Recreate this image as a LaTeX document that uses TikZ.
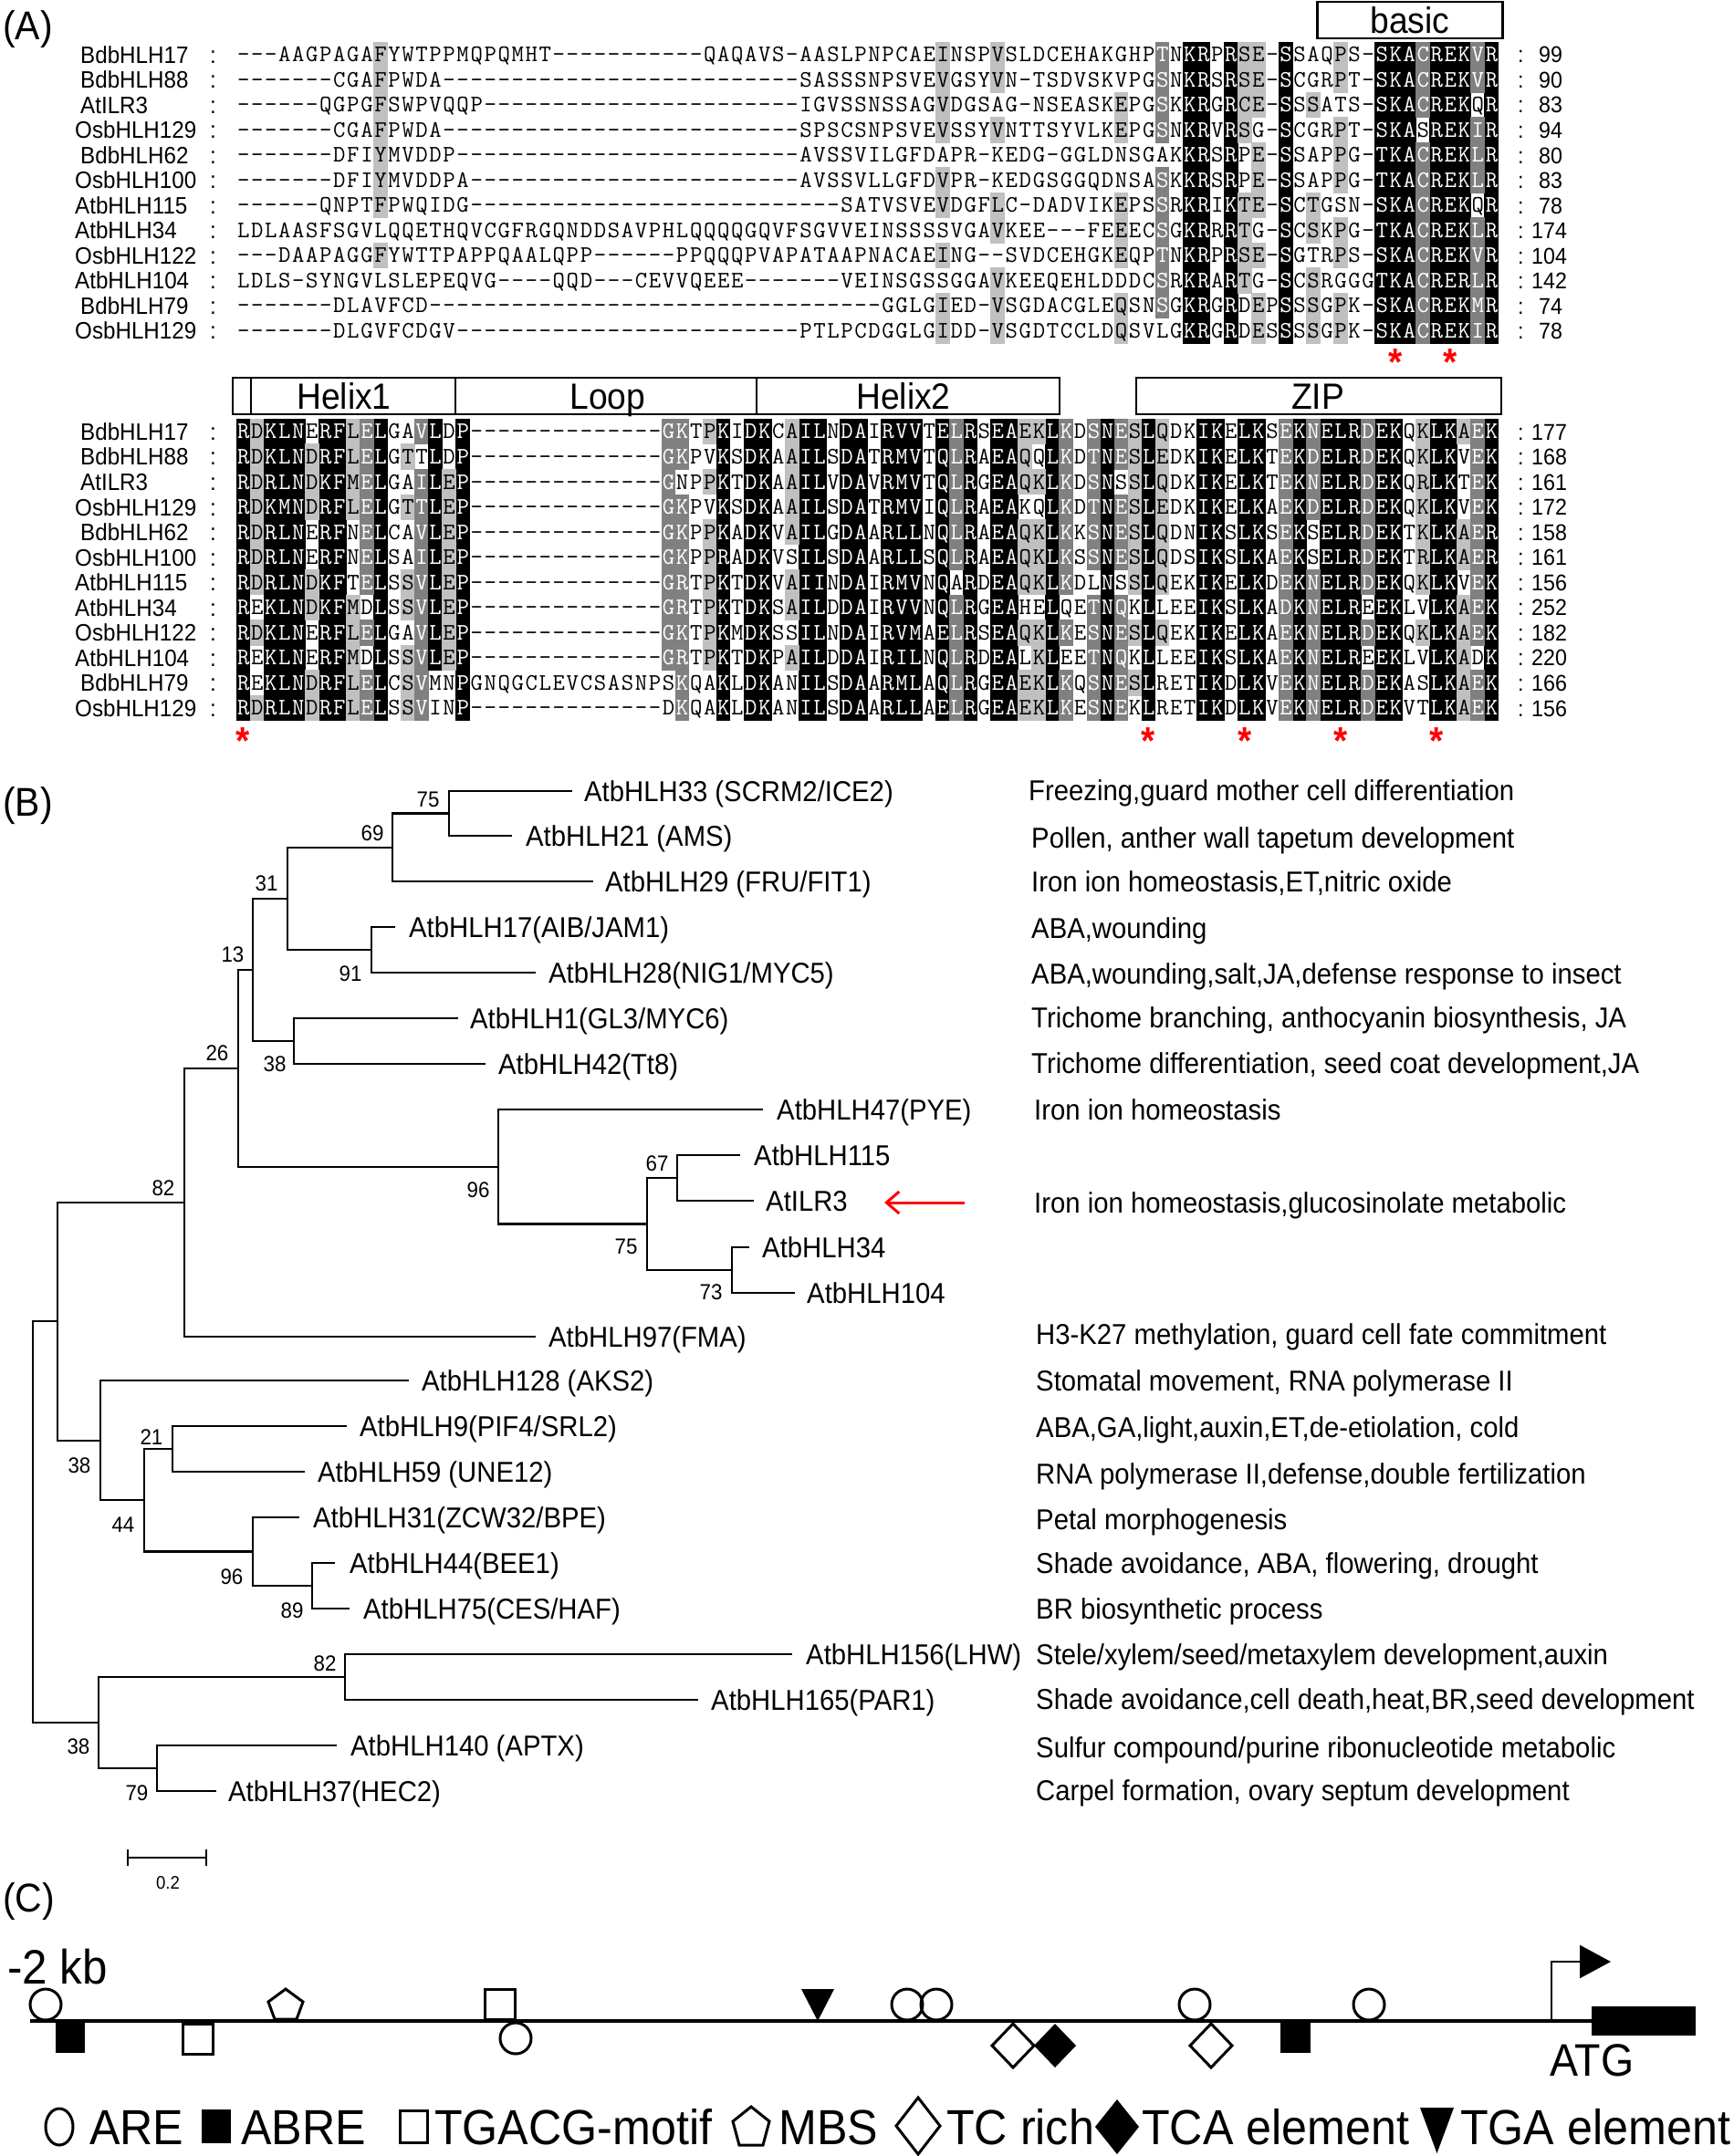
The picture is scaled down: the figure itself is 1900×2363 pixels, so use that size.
\documentclass[tikz,border=0pt]{standalone}
\usepackage{fontspec}
\setmainfont[FakeStretch=0.93]{Liberation Sans}
\usetikzlibrary{arrows.meta}
\definecolor{lgray}{RGB}{192,192,192}
\definecolor{dgray}{RGB}{128,128,128}
\newcount\rowc
\newcount\colc
\def\D#1{\ifnum#1>0 -\expandafter\D\expandafter{\the\numexpr#1-1\relax}\fi}
% shading columns
\def\setcol#1#2#3{\global\rowc=0 \def\scblk{#1}\def\sccol{#2}\scwalk#3\relax}
\def\scwalk#1{\ifx#1\relax\else\global\advance\rowc by 1\relax\expandafter\xdef\csname sh-\scblk-\the\rowc-\sccol\endcsname{#1}\scfill{#1}\expandafter\scwalk\fi}
\def\scfill#1{\def\scc{}\if k#1\def\scc{black}\fi\if d#1\def\scc{dgray}\fi\if l#1\def\scc{lgray}\fi\ifx\scc\empty\else\fill[\scc] ({259+(\sccol-1)*15.03-0.35},{\ybase+(\the\rowc-1)*\ypitch-14.1}) rectangle ++(15.73,28.2);\fi}
\def\colA#1#2{\def\ybase{60}\def\ypitch{27.5}\setcol{1}{#1}{#2}}
\def\colB#1#2{\def\ybase{473}\def\ypitch{27.55}\setcol{2}{#1}{#2}}
% sequence text
\def\seqline#1#2#3{\def\slblk{#1}\def\slrow{#2}\colc=0 \edef\sltmp{#3}\expandafter\slwalk\sltmp\relax}
\def\slwalk#1{\ifx#1\relax\else\advance\colc by 1\relax\slchar{#1}\expandafter\slwalk\fi}
\def\slchar#1{\expandafter\ifx\csname sh-\slblk-\slrow-\the\colc\endcsname\relax\hbox to 15.03pt{\hss#1\hss}\else\edef\slcode{\csname sh-\slblk-\slrow-\the\colc\endcsname}\if k\slcode\hbox to 15.03pt{\hss\textcolor{white}{#1}\hss}\else\if d\slcode\hbox to 15.03pt{\hss\textcolor{white}{#1}\hss}\else\hbox to 15.03pt{\hss#1\hss}\fi\fi\fi}
\newcommand\rowA[6]{\pgfmathsetmacro\yc{60+(#1-1)*27.5}%
  \node[lab] (la#1) at (#3,\yc+9.4) {#2};
  \node[lab] (ca#1) at (230,\yc+9.4) {:};
  \node[seqt] (sa#1) at (259,\yc+7.9) {\seqline{1}{#1}{#6}};
  \node[numt] (qa#1) at (1663,\yc+9) {:};
  \node[numt] (na#1) at (#4,\yc+9) {#5};}
\newcommand\rowB[6]{\pgfmathsetmacro\yc{473+(#1-1)*27.55}%
  \node[lab] (lb#1) at (#3,\yc+9.4) {#2};
  \node[lab] (cb#1) at (230,\yc+9.4) {:};
  \node[seqt] (sb#1) at (259,\yc+7.9) {\seqline{2}{#1}{#6}};
  \node[numt] (qb#1) at (1663,\yc+9) {:};
  \node[numt] (nb#1) at (#4,\yc+9) {#5};}
\newcommand\leafnode[5]{\coordinate (e#1) at (#2,#3); \node[leaft] (t#1) at (#4,#3+11.3) {#5};}
\begin{document}
\begin{tikzpicture}[x=1pt,y=-1pt,
  lab/.style={font=\fontsize{26}{26}\selectfont,anchor=base west,inner sep=0pt},
  numt/.style={font=\fontsize{25}{25}\selectfont,anchor=base west,inner sep=0pt},
  seqt/.style={font=\ttfamily\fontsize{26}{26}\selectfont,anchor=base west,inner sep=0pt},
  hdr/.style={draw,line width=2.5pt,inner sep=0pt,minimum height=40pt},
  hdrtxt/.style={font=\fontsize{40}{40}\selectfont,text height=28.8pt,text depth=0pt,inner sep=0pt},
  paneltxt/.style={font=\fontsize{44}{44}\selectfont,anchor=west,inner sep=0pt},
  redstar/.style={font=\bfseries\fontsize{42}{42}\selectfont,text=red,anchor=base,inner sep=0pt},
  leaft/.style={font=\fontsize{31.5}{31.5}\selectfont,anchor=base west,inner sep=0pt},
  boot/.style={font=\fontsize{24}{24}\selectfont,anchor=base,inner sep=0pt},
  brline/.style={line width=2.2pt},
  bigt/.style={font=\fontsize{54}{54}\selectfont,anchor=base west,inner sep=0pt},
  sym/.style={line width=3pt}]
\useasboundingbox (0,0) rectangle (1900,2363);
\fill[white] (0,0) rectangle (1900,2363);
% ---------------- Panel A shading ----------------
\colA{11}{lllllll.l...}
\colA{52}{llll.ll.l.ll}
\colA{56}{ll.l..ll.lll}
\colA{65}{..ll..lll.ll}
\colA{68}{dddd.dddddd.}
\foreach \c in {70,71,73,77,84,85,86,88,89,90,92}{\colA{\c}{kkkkkkkkkkkk}}
\colA{74}{llll..llll..}
\colA{75}{lll.lll.l.ll}
\colA{79}{..l...ll.lll}
\colA{81}{ll.lll.ll.ll}
\colA{87}{ddd.dddddddd}
\colA{91}{dd.ddd.ddddd}
\foreach \c in {1,3,4,5,7,8,11,17,36,38,39,42,43,45,46,48,49,50,52,54,56,57,60,64,67,71,72,74,75,78,80,81,82,84,85,88,89,92}{\colB{\c}{kkkkkkkkkkkk}}
\colB{2}{lllllll.l..l}
\colB{6}{.lll..ll..ll}
\colB{9}{llll...lllll}
\colB{10}{ddddddd.d.dd}
\colB{13}{.l.l..ll.lll}
\colB{14}{d.dddddddddd}
\colB{15}{kkkkkkkkkk..}
\colB{16}{..llllllll..}
\colB{32}{dddddddddd..}
\colB{33}{dd.ddddddddd}
\colB{35}{l.l.llllll..}
\colB{41}{lllll.ll.l..}
\colB{53}{dddddd.ddddd}
\colB{58}{lll.lll.l.ll}
\colB{59}{l.l.lll.llll}
\colB{61}{ddddddd.d.dd}
\colB{63}{dddddd.ddddd}
\colB{65}{dd.ddd.ddddd}
\colB{66}{lllllll.l.l.}
\colB{68}{lllllll.l...}
\colB{77}{dddddddddddd}
\colB{79}{dddd..dddddd}
\colB{83}{ddddddd.d.dd}
\colB{87}{lllllll.l...}
\colB{90}{l...ll.lllll}
\colB{91}{ddddddddd.dd}
% ---------------- Panel A text ----------------
\node[paneltxt] (pA) at (3,32) {(A)};
\node[hdr,minimum width=203pt] (bxbasic) at (1545,22) {};
\node[hdrtxt] (tbasic) at (1545,22) {basic};
\rowA{1}{BdbHLH17}{88}{1686}{99}{---AAGPAGAFYWTPPMQPQMHT\D{11}QAQAVS-AASLPNPCAEINSPVSLDCEHAKGHPTNKRPRSE-SSAQPS-SKACREKVR}
\rowA{2}{BdbHLH88}{88}{1686}{90}{-------CGAFPWDA\D{26}SASSSNPSVEVGSYVN-TSDVSKVPGSNKRSRSE-SCGRPT-SKACREKVR}
\rowA{3}{AtILR3}{88}{1686}{83}{------QGPGFSWPVQQP\D{23}IGVSSNSSAGVDGSAG-NSEASKEPGSKKRGRCE-SSSATS-SKACREKQR}
\rowA{4}{OsbHLH129}{82}{1686}{94}{-------CGAFPWDA\D{26}SPSCSNPSVEVSSYVNTTSYVLKEPGSNKRVRSG-SCGRPT-SKASREKIR}
\rowA{5}{BdbHLH62}{88}{1686}{80}{-------DFIYMVDDP\D{25}AVSSVILGFDAPR-KEDG-GGLDNSGAKKRSRPE-SSAPPG-TKACREKLR}
\rowA{6}{OsbHLH100}{82}{1686}{83}{-------DFIYMVDDPA\D{24}AVSSVLLGFDVPR-KEDGSGGQDNSASKKRSRPE-SSAPPG-TKACREKLR}
\rowA{7}{AtbHLH115}{82}{1686}{78}{------QNPTFPWQIDG\D{27}SATVSVEVDGFLC-DADVIKEPSSRKRIKTE-SCTGSN-SKACREKQR}
\rowA{8}{AtbHLH34}{82}{1678}{174}{LDLAASFSGVLQQETHQVCGFRGQNDDSAVPHLQQQQGQVFSGVVEINSSSSVGAVKEE---FEEECSGKRRRTG-SCSKPG-TKACREKLR}
\rowA{9}{OsbHLH122}{82}{1678}{104}{---DAAPAGGFYWTTPAPPQAALQPP------PPQQQPVAPATAAPNACAEING--SVDCEHGKEQPTNKRPRSE-SGTRPS-SKACREKVR}
\rowA{10}{AtbHLH104}{82}{1678}{142}{LDLS-SYNGVLSLEPEQVG----QQD---CEVVQEEE-------VEINSGSSGGAVKEEQEHLDDDCSRKRARTG-SCSRGGGTKACRERLR}
\rowA{11}{BdbHLH79}{88}{1686}{74}{-------DLAVFCD\D{33}GGLGIED-VSGDACGLEQSNSGKRGRDEPSSSGPK-SKACREKMR}
\rowA{12}{OsbHLH129}{82}{1686}{78}{-------DLGVFCDGV\D{25}PTLPCDGGLGIDD-VSGDTCCLDQSVLGKRGRDESSSSGPK-SKACREKIR}
\node[redstar] (sA1) at (1529,411) {*};
\node[redstar] (sA2) at (1589,411) {*};
% block 2 headers
\node[hdr,minimum width=20pt] (bx0) at (265,434) {};
\node[hdr,minimum width=224pt] (bxh1) at (387,434) {};
\node[hdr,minimum width=330pt] (bxloop) at (664,434) {};
\node[hdr,minimum width=332pt] (bxh2) at (995,434) {};
\node[hdr,minimum width=400pt] (bxzip) at (1445,434) {};
\node[hdrtxt] (th1) at (377,434) {Helix1};
\node[hdrtxt] (tloop) at (666,434) {Loop};
\node[hdrtxt] (th2) at (990,434) {Helix2};
\node[hdrtxt] (tzip) at (1444,434) {ZIP};
\rowB{1}{BdbHLH17}{88}{1678}{177}{RDKLNERFLELGAVLDP\D{14}GKTPKIDKCAILNDAIRVVTELRSEAEKLKDSNESLQDKIKELKSEKNELRDEKQKLKAEK}
\rowB{2}{BdbHLH88}{88}{1678}{168}{RDKLNDRFLELGTTLDP\D{14}GKPVKSDKAAILSDATRMVTQLRAEAQQLKDTNESLEDKIKELKTEKDELRDEKQKLKVEK}
\rowB{3}{AtILR3}{88}{1678}{161}{RDRLNDKFMELGAILEP\D{14}GNPPKTDKAAILVDAVRMVTQLRGEAQKLKDSNSSLQDKIKELKTEKNELRDEKQRLKTEK}
\rowB{4}{OsbHLH129}{82}{1678}{172}{RDKMNDRFLELGTTLEP\D{14}GKPVKSDKAAILSDATRMVIQLRAEAKQLKDTNESLEDKIKELKAEKDELRDEKQKLKVEK}
\rowB{5}{BdbHLH62}{88}{1678}{158}{RDRLNERFNELCAVLEP\D{14}GKPPKADKVAILGDAARLLNQLRAEAQKLKKSNESLQDNIKSLKSEKSELRDEKTKLKAER}
\rowB{6}{OsbHLH100}{82}{1678}{161}{RDRLNERFNELSAILEP\D{14}GKPPRADKVSILSDAARLLSQLRAEAQKLKSSNESLQDSIKSLKAEKSELRDEKTRLKAER}
\rowB{7}{AtbHLH115}{82}{1678}{156}{RDRLNDKFTELSSVLEP\D{14}GRTPKTDKVAIINDAIRMVNQARDEAQKLKDLNSSLQEKIKELKDEKNELRDEKQKLKVEK}
\rowB{8}{AtbHLH34}{82}{1678}{252}{REKLNDKFMDLSSVLEP\D{14}GRTPKTDKSAILDDAIRVVNQLRGEAHELQETNQKLLEEIKSLKADKNELREEKLVLKAEK}
\rowB{9}{OsbHLH122}{82}{1678}{182}{RDKLNERFLELGAVLEP\D{14}GKTPKMDKSSILNDAIRVMAELRSEAQKLKESNESLQEKIKELKAEKNELRDEKQKLKAEK}
\rowB{10}{AtbHLH104}{82}{1678}{220}{REKLNERFMDLSSVLEP\D{14}GRTPKTDKPAILDDAIRILNQLRDEALKLEETNQKLLEEIKSLKAEKNELREEKLVLKADK}
\rowB{11}{BdbHLH79}{88}{1678}{166}{REKLNDRFLELCSVMNPGNQGCLEVCSASNPSKQAKLDKANILSDAARMLAQLRGEAEKLKQSNESLRETIKDLKVEKNELRDEKASLKAEK}
\rowB{12}{OsbHLH129}{82}{1678}{156}{RDRLNDRFLELSSVINP\D{14}DKQAKLDKANILSDAARLLAELRGEAEKLKESNEKLRETIKDLKVEKNELRDEKVTLKAEK}
\node[redstar] (sB1) at (266.5,826) {*};
\node[redstar] (sB2) at (1258.5,826) {*};
\node[redstar] (sB3) at (1364,826) {*};
\node[redstar] (sB4) at (1469,826) {*};
\node[redstar] (sB5) at (1574,826) {*};
% ---------------- Panel B ----------------
\node[paneltxt] (pB) at (3,883) {(B)};
\leafnode{33}{627}{867}{640}{AtbHLH33 (SCRM2/ICE2)}
\leafnode{21}{561}{916}{576}{AtbHLH21 (AMS)}
\leafnode{29}{650}{966}{663}{AtbHLH29 (FRU/FIT1)}
\leafnode{17}{433}{1016}{448}{AtbHLH17(AIB/JAM1)}
\leafnode{28}{587}{1066}{601}{AtbHLH28(NIG1/MYC5)}
\leafnode{1}{502}{1116}{515}{AtbHLH1(GL3/MYC6)}
\leafnode{42}{532}{1166}{546}{AtbHLH42(Tt8)}
\leafnode{47}{836}{1216}{851}{AtbHLH47(PYE)}
\leafnode{115}{811}{1266}{826}{AtbHLH115}
\leafnode{ILR3}{826}{1316}{839}{AtILR3}
\leafnode{34}{821}{1367}{835}{AtbHLH34}
\leafnode{104}{871}{1417}{884}{AtbHLH104}
\leafnode{97}{587}{1465}{601}{AtbHLH97(FMA)}
\leafnode{128}{448}{1513}{462}{AtbHLH128 (AKS2)}
\leafnode{9}{380}{1563}{394}{AtbHLH9(PIF4/SRL2)}
\leafnode{59}{334}{1613}{348}{AtbHLH59 (UNE12)}
\leafnode{31}{328}{1663}{343}{AtbHLH31(ZCW32/BPE)}
\leafnode{44}{367}{1713}{383}{AtbHLH44(BEE1)}
\leafnode{75}{383}{1763}{398}{AtbHLH75(CES/HAF)}
\leafnode{156}{868}{1813}{883}{AtbHLH156(LHW)}
\leafnode{165}{765}{1863}{779}{AtbHLH165(PAR1)}
\leafnode{140}{369}{1913}{384}{AtbHLH140 (APTX)}
\leafnode{37}{237}{1963}{250}{AtbHLH37(HEC2)}
\coordinate (N75a) at (492,891.5);
\coordinate (N69) at (430,928.75);
\coordinate (N91) at (407,1041);
\coordinate (N31) at (315,984.9);
\coordinate (N38a) at (322,1141);
\coordinate (N13) at (277,1062.9);
\coordinate (N67) at (742,1291);
\coordinate (N73) at (802,1392);
\coordinate (N75b) at (709,1341.5);
\coordinate (N96a) at (546,1278.75);
\coordinate (N26) at (261,1170.8);
\coordinate (N82a) at (202,1317.9);
\coordinate (N21) at (189,1588);
\coordinate (N89) at (342,1738);
\coordinate (N96b) at (277,1700.5);
\coordinate (N44) at (158,1644.25);
\coordinate (N38b) at (110,1578.6);
\coordinate (Nr2) at (63,1448.3);
\coordinate (N82b) at (378,1838);
\coordinate (N79) at (172,1938);
\coordinate (N38c) at (108,1888);
\coordinate (Root) at (36,1668);
\foreach \p/\q in {N75a/e33,N75a/e21,N69/N75a,N69/e29,N91/e17,N91/e28,N31/N69,N31/N91,N38a/e1,N38a/e42,N13/N31,N13/N38a,N67/e115,N67/eILR3,N73/e34,N73/e104,N75b/N67,N75b/N73,N96a/e47,N96a/N75b,N26/N13,N26/N96a,N82a/N26,N82a/e97,N21/e9,N21/e59,N89/e44,N89/e75,N96b/e31,N96b/N89,N44/N21,N44/N96b,N38b/e128,N38b/N44,Nr2/N82a,Nr2/N38b,N82b/e156,N82b/e165,N79/e140,N79/e37,N38c/N82b,N38c/N79,Root/Nr2,Root/N38c}{\draw[brline] (\p) |- (\q);}
\foreach \n/\x/\y/\v in {b1/469/876/75,b2/408/913/69,b3/292/968/31,b4/384/1067/91,b5/255/1046/13,b6/301/1166/38,b7/238/1154/26,b8/524/1304/96,b9/720/1275/67,b10/686/1366/75,b11/779/1416/73,b12/179/1302/82,b13/166/1575/21,b14/87/1606/38,b15/135/1671/44,b16/254/1728/96,b17/320/1765/89,b18/356/1823/82,b19/86/1914/38,b20/150/1965/79}{\node[boot] (\n) at (\x,\y+8.6) {\v};}
\foreach \n/\x/\y/\t in {f1/1127/866/{Freezing,guard mother cell differentiation},f2/1130/918/{Pollen, anther wall tapetum development},f3/1130/966/{Iron ion homeostasis,ET,nitric oxide},f4/1130/1017/{ABA,wounding},f5/1130/1067/{ABA,wounding,salt,JA,defense response to insect},f6/1130/1115/{Trichome branching, anthocyanin biosynthesis, JA},f7/1130/1165/{Trichome differentiation, seed coat development,JA},f8/1133/1216/{Iron ion homeostasis},f9/1133/1318/{Iron ion homeostasis,glucosinolate metabolic},f10/1135/1462/{H3-K27 methylation, guard cell fate commitment},f11/1135/1513/{Stomatal movement, RNA polymerase II},f12/1135/1564/{ABA,GA,light,auxin,ET,de-etiolation, cold},f13/1135/1615/{RNA polymerase II,defense,double fertilization},f14/1135/1665/{Petal morphogenesis},f15/1135/1713/{Shade avoidance, ABA, flowering, drought},f16/1135/1763/{BR biosynthetic process},f17/1135/1813/{Stele/xylem/seed/metaxylem development,auxin},f18/1135/1862/{Shade avoidance,cell death,heat,BR,seed development},f19/1135/1915/{Sulfur compound/purine ribonucleotide metabolic},f20/1135/1962/{Carpel formation, ovary septum development}}{\node[leaft] (\n) at (\x,\y+11.3) {\t};}
\coordinate (arS) at (1057,1318);
\coordinate (arE) at (969,1318);
\draw[red,line width=3pt,-{Straight Barb[length=14pt,width=24pt,line width=3pt]}] (arS) -- (arE);
\coordinate (sc1) at (140,2036);
\coordinate (sc2) at (226,2036);
\draw[brline] (sc1) -- (sc2);
\draw[brline] ([yshift=-9pt]sc1) -- ([yshift=9pt]sc1);
\draw[brline] ([yshift=-9pt]sc2) -- ([yshift=9pt]sc2);
\node[boot,font=\fontsize{20}{20}\selectfont] (sclab) at (184,2070) {0.2};
% ---------------- Panel C ----------------
\node[paneltxt] (pC) at (3,2084) {(C)};
\node[bigt,font=\fontsize{53}{53}\selectfont] (kb) at (8,2174) {-2 kb};
\coordinate (pl) at (33,2215);
\coordinate (pr) at (1748,2215);
\draw[line width=4pt] (pl) -- (pr);
\fill (1744,2199) rectangle (1858,2231);
\coordinate (t0) at (1700,2215);
\coordinate (t1) at (1765,2150);
\draw[line width=2.5pt,-{Triangle[length=34pt,width=36pt]}] (t0) |- (t1);
\node[bigt,font=\fontsize{50}{50}\selectfont] (atg) at (1698,2275) {ATG};
\draw[sym,fill=white] (50,2197) circle[radius=17pt];
\fill (61,2216) rectangle (93,2250);
\draw[sym,fill=white] (200,2218) rectangle (233,2251);
\draw[sym,fill=white] (313,2180) -- (332,2194) -- (325,2213) -- (301,2213) -- (294,2194) -- cycle;
\draw[sym,fill=white] (531,2180) rectangle (564,2213);
\draw[sym,fill=white] (565,2234) circle[radius=17pt];
\fill (878,2180) -- (914,2180) -- (896,2215) -- cycle;
\draw[sym] (994,2197) circle[radius=17pt];
\draw[sym] (1026,2197) circle[radius=17pt];
\draw[sym,fill=white] (1110,2218) -- (1133,2242) -- (1110,2266) -- (1087,2242) -- cycle;
\fill (1156,2218) -- (1179,2242) -- (1156,2266) -- (1133,2242) -- cycle;
\draw[sym] (1309,2197) circle[radius=17pt];
\draw[sym,fill=white] (1327,2218) -- (1350,2242) -- (1327,2266) -- (1304,2242) -- cycle;
\fill (1403,2216) rectangle (1436,2250);
\draw[sym] (1500,2197) circle[radius=17pt];
% legend
\draw[sym] (65,2331) ellipse[x radius=15pt,y radius=20pt];
\node[bigt] (lg1) at (98,2350) {ARE};
\fill (221,2312) rectangle (253,2349);
\node[bigt] (lg2) at (264,2350) {ABRE};
\draw[sym] (438,2313) rectangle (468,2348);
\node[bigt] (lg3) at (476,2350) {TGACG-motif};
\draw[sym] (823,2309) -- (843,2325) -- (836,2351) -- (810,2351) -- (803,2325) -- cycle;
\node[bigt] (lg4) at (853,2350) {MBS};
\draw[sym] (1006,2299) -- (1030,2330) -- (1006,2361) -- (982,2330) -- cycle;
\node[bigt] (lg5) at (1037,2350) {TC rich};
\fill (1224,2301) -- (1248,2331) -- (1224,2361) -- (1200,2331) -- cycle;
\node[bigt] (lg6) at (1251,2350) {TCA element};
\fill (1556,2310) -- (1593,2310) -- (1574.5,2360) -- cycle;
\node[bigt] (lg7) at (1600,2350) {TGA element};
\end{tikzpicture}
\end{document}
